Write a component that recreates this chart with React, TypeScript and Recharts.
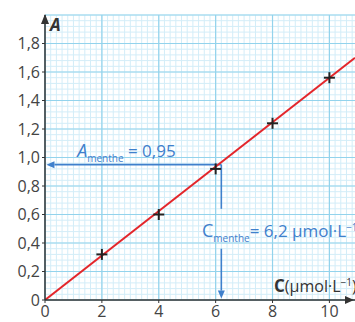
import React from 'react';
import { ComposedChart, XAxis, YAxis, Line, Scatter, ReferenceLine, ReferenceDot } from 'recharts';

// Measured data (C in µmol/L, absorbance A)
const concentrations = [2, 4, 6, 8, 10];
const absorbances = [0.32, 0.6, 0.92, 1.24, 1.56];
// Calibration line endpoints
const fitC = [0, 10.9];
const fitA = [0, 1.7];
// Ticks
const xTicks = [0, 2, 4, 6, 8, 10];
const yTicks = [0, 0.2, 0.4, 0.6, 0.8, 1.0, 1.2, 1.4, 1.6, 1.8];
// Reading
const aMenthe = 0.95;
const cMenthe = 6.2;
const aLabel = '0,95';
const cLabel = '6,2';

const X_MAX = 10.9;
const Y_MAX = 2.0;

// grid (graph-paper) positions
const majorX = [0, 2, 4, 6, 8, 10];
const minorX = Array.from({ length: 55 }, (_, i) => Math.round(i * 0.2 * 100) / 100);
const majorY = [0, 0.2, 0.4, 0.6, 0.8, 1.0, 1.2, 1.4, 1.6, 1.8, 2.0];
const minorY = Array.from({ length: 51 }, (_, i) => Math.round(i * 0.04 * 1000) / 1000);

const points = concentrations.map((c, i) => ({ c, a: absorbances[i] }));
const fitData = fitC.map((c, i) => ({ c, a: fitA[i] }));

const BLUE = '#3f80cc';
const AXIS = '#333';
const FONT = '"Open Sans", Lato, sans-serif';

const fmtY = (v: number) => (v === 0 ? '0' : v.toFixed(1).replace('.', ','));
const fmtX = (v: number) => String(v);

const arrowLine = (withHead: boolean) => (p: any) => {
  const { x1, y1, x2, y2 } = p;
  const dx = x2 - x1;
  const dy = y2 - y1;
  const len = Math.sqrt(dx * dx + dy * dy) || 1;
  const ux = dx / len;
  const uy = dy / len;
  const L = 8;
  const W = 3.5;
  const bx = x2 - ux * L;
  const by = y2 - uy * L;
  return (
    <g>
      <line x1={x1} y1={y1} x2={withHead ? bx : x2} y2={withHead ? by : y2} stroke={BLUE} strokeWidth={1.6} />
      {withHead && (
        <polygon
          points={`${x2},${y2} ${bx - uy * W},${by + ux * W} ${bx + uy * W},${by - ux * W}`}
          fill={BLUE}
        />
      )}
    </g>
  );
};

const CrossShape = (p: any) => {
  const { cx, cy } = p;
  const s = 5.5;
  return (
    <g stroke="#222" strokeWidth={2}>
      <line x1={cx - s} y1={cy} x2={cx + s} y2={cy} />
      <line x1={cx} y1={cy - s} x2={cx} y2={cy + s} />
    </g>
  );
};

const YArrow = (p: any) => {
  const { cx, cy } = p;
  return (
    <g>
      <polygon points={`${cx},${cy - 1} ${cx - 4},${cy + 9} ${cx + 4},${cy + 9}`} fill={AXIS} />
      <text x={cx + 5} y={cy + 16} fontFamily={FONT} fontSize={17} fontWeight="bold" fontStyle="italic" fill={AXIS}>
        A
      </text>
    </g>
  );
};

const XArrow = (p: any) => {
  const { cx, cy } = p;
  return (
    <g>
      <polygon points={`${cx - 1},${cy} ${cx - 10},${cy - 4} ${cx - 10},${cy + 4}`} fill={AXIS} />
      <text x={cx - 81} y={cy - 8} fontFamily={FONT} fill={AXIS}>
        <tspan fontSize={17} fontWeight="bold">C</tspan>
        <tspan fontSize={16}>(µmol·L</tspan>
        <tspan fontSize={10} dy={-6}>−1</tspan>
        <tspan fontSize={16} dy={6}>)</tspan>
      </text>
    </g>
  );
};

const ALabel = (p: any) => {
  const { cx, cy } = p;
  return (
    <text x={cx} y={cy} fontFamily={FONT} fill={BLUE}>
      <tspan fontSize={18} fontStyle="italic">A</tspan>
      <tspan fontSize={10} dy={5}>menthe</tspan>
      <tspan fontSize={17} dy={-5}>{` = ${aLabel}`}</tspan>
    </text>
  );
};

const CLabel = (p: any) => {
  const { cx, cy } = p;
  return (
    <text x={cx} y={cy} fontFamily={FONT} fill={BLUE}>
      <tspan fontSize={18}>C</tspan>
      <tspan fontSize={10} dy={5}>menthe</tspan>
      <tspan fontSize={17} dy={-5}>{`= ${cLabel} µmol·L`}</tspan>
      <tspan fontSize={10} dy={-6}>−1</tspan>
    </text>
  );
};

export default function App() {
  return (
    <div style={{ position: 'absolute', left: 0, top: 0, width: 355, height: 322, background: '#fff', overflow: 'hidden' }}>
      <ComposedChart width={355} height={322} margin={{ top: 15, right: 0, bottom: 0, left: 0 }}>
        <XAxis
          type="number"
          dataKey="c"
          domain={[0, X_MAX]}
          ticks={xTicks}
          allowDataOverflow
          height={22}
          tickSize={3}
          tickMargin={3}
          tickFormatter={fmtX}
          stroke={AXIS}
          axisLine={{ stroke: AXIS, strokeWidth: 1.5 }}
          tickLine={{ stroke: AXIS }}
          tick={{ fill: '#444', fontSize: 16, fontFamily: FONT }}
        />
        <YAxis
          type="number"
          dataKey="a"
          domain={[0, Y_MAX]}
          ticks={yTicks}
          allowDataOverflow
          width={45}
          tickSize={3}
          tickMargin={2}
          tickFormatter={fmtY}
          stroke={AXIS}
          axisLine={{ stroke: AXIS, strokeWidth: 1.5 }}
          tickLine={{ stroke: AXIS }}
          tick={{ fill: '#444', fontSize: 16, fontFamily: FONT }}
        />
        {minorX.map((v) => (
          <ReferenceLine key={`mx${v}`} x={v} stroke="#d3edf8" strokeWidth={1} />
        ))}
        {minorY.map((v) => (
          <ReferenceLine key={`my${v}`} y={v} stroke="#d3edf8" strokeWidth={1} />
        ))}
        {majorX.map((v) => (
          <ReferenceLine key={`Mx${v}`} x={v} stroke="#93d3ec" strokeWidth={1.2} />
        ))}
        {majorY.map((v) => (
          <ReferenceLine key={`My${v}`} y={v} stroke="#93d3ec" strokeWidth={1.2} />
        ))}
        <ReferenceLine
          segment={[{ x: cMenthe, y: aMenthe }, { x: 0.05, y: aMenthe }]}
          shape={arrowLine(true)}
        />
        <ReferenceLine
          segment={[{ x: cMenthe, y: aMenthe }, { x: cMenthe, y: 0.64 }]}
          shape={arrowLine(false)}
        />
        <ReferenceLine
          segment={[{ x: cMenthe, y: 0.36 }, { x: cMenthe, y: 0.01 }]}
          shape={arrowLine(true)}
        />
        <ReferenceDot x={1.13} y={1.005} r={0} shape={ALabel} />
        <ReferenceDot x={5.52} y={0.44} r={0} shape={CLabel} />
        <Line
          data={fitData}
          dataKey="a"
          type="linear"
          stroke="#e3262b"
          strokeWidth={2}
          dot={false}
          isAnimationActive={false}
        />
        <Scatter data={points} dataKey="a" shape={CrossShape} isAnimationActive={false} />
        <ReferenceDot x={0} y={Y_MAX} r={0} shape={YArrow} />
        <ReferenceDot x={X_MAX} y={0} r={0} shape={XArrow} />
      </ComposedChart>
    </div>
  );
}
